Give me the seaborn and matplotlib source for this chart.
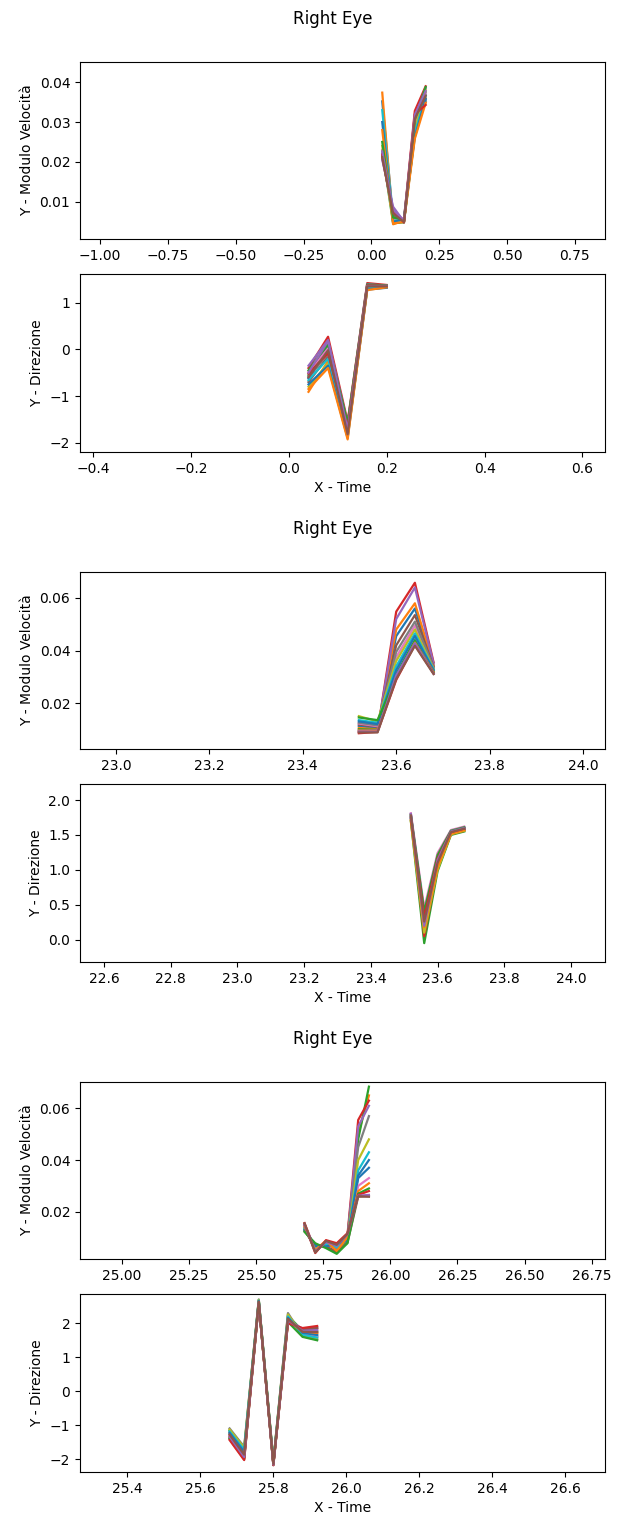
# %%
# * 1. Import packages
import matplotlib.pyplot as plt
import pandas as pd
import seaborn as sns

# %%
# * 2. Data read from the three "Right Eye" figures (one row per trial)
time_a = [0.04, 0.08, 0.12, 0.16, 0.20]
vel_a = [
    [0.0352, 0.0058, 0.0050, 0.0290, 0.0368],
    [0.0374, 0.0043, 0.0052, 0.0275, 0.0360],
    [0.0228, 0.0046, 0.0048, 0.0268, 0.0375],
    [0.0210, 0.0072, 0.0054, 0.0328, 0.0390],
    [0.0205, 0.0087, 0.0050, 0.0312, 0.0385],
    [0.0220, 0.0065, 0.0047, 0.0300, 0.0350],
    [0.0230, 0.0055, 0.0058, 0.0295, 0.0372],
    [0.0215, 0.0068, 0.0049, 0.0285, 0.0355],
    [0.0240, 0.0050, 0.0051, 0.0280, 0.0380],
    [0.0330, 0.0052, 0.0053, 0.0272, 0.0365],
    [0.0300, 0.0049, 0.0056, 0.0262, 0.0358],
    [0.0280, 0.0045, 0.0049, 0.0258, 0.0348],
    [0.0250, 0.0060, 0.0055, 0.0305, 0.0388],
    [0.0218, 0.0075, 0.0048, 0.0320, 0.0343],
    [0.0226, 0.0080, 0.0052, 0.0318, 0.0378],
    [0.0212, 0.0070, 0.0049, 0.0308, 0.0366],
]
dir_a = [
    [-0.62, -0.05, -1.70, 1.35, 1.36],
    [-0.91, -0.25, -1.85, 1.30, 1.34],
    [-0.55, 0.08, -1.62, 1.38, 1.37],
    [-0.40, 0.27, -1.55, 1.42, 1.38],
    [-0.35, 0.20, -1.60, 1.40, 1.36],
    [-0.70, -0.15, -1.80, 1.33, 1.35],
    [-0.48, 0.02, -1.65, 1.36, 1.37],
    [-0.58, -0.10, -1.75, 1.34, 1.35],
    [-0.80, -0.30, -1.88, 1.29, 1.33],
    [-0.66, -0.20, -1.78, 1.31, 1.34],
    [-0.75, -0.35, -1.90, 1.28, 1.32],
    [-0.85, -0.40, -1.93, 1.27, 1.33],
    [-0.45, 0.12, -1.58, 1.39, 1.37],
    [-0.52, -0.08, -1.68, 1.37, 1.36],
    [-0.50, 0.18, -1.72, 1.36, 1.36],
    [-0.60, -0.02, -1.82, 1.35, 1.35],
]

time_b = [23.52, 23.56, 23.60, 23.64, 23.68]
vel_b = [
    [0.0112, 0.0105, 0.0455, 0.0560, 0.0340],
    [0.0105, 0.0100, 0.0480, 0.0580, 0.0345],
    [0.0100, 0.0098, 0.0310, 0.0440, 0.0320],
    [0.0090, 0.0093, 0.0548, 0.0658, 0.0355],
    [0.0095, 0.0096, 0.0520, 0.0640, 0.0350],
    [0.0118, 0.0110, 0.0420, 0.0535, 0.0338],
    [0.0122, 0.0112, 0.0375, 0.0495, 0.0333],
    [0.0125, 0.0115, 0.0395, 0.0510, 0.0335],
    [0.0150, 0.0130, 0.0360, 0.0480, 0.0330],
    [0.0135, 0.0125, 0.0340, 0.0465, 0.0328],
    [0.0130, 0.0120, 0.0325, 0.0455, 0.0325],
    [0.0095, 0.0094, 0.0300, 0.0430, 0.0318],
    [0.0145, 0.0135, 0.0295, 0.0425, 0.0315],
    [0.0085, 0.0090, 0.0288, 0.0421, 0.0313],
    [0.0092, 0.0091, 0.0305, 0.0428, 0.0312],
    [0.0088, 0.0088, 0.0292, 0.0418, 0.0310],
]
dir_b = [
    [1.75, 0.30, 1.10, 1.53, 1.58],
    [1.72, 0.25, 1.05, 1.52, 1.57],
    [1.70, -0.05, 0.98, 1.50, 1.55],
    [1.78, 0.05, 1.02, 1.51, 1.56],
    [1.80, 0.15, 1.15, 1.56, 1.61],
    [1.76, 0.35, 1.20, 1.55, 1.60],
    [1.81, 0.45, 1.24, 1.57, 1.62],
    [1.74, 0.28, 1.12, 1.54, 1.59],
    [1.69, 0.10, 1.00, 1.51, 1.56],
    [1.77, 0.38, 1.18, 1.55, 1.60],
    [1.73, 0.22, 1.08, 1.53, 1.58],
    [1.71, 0.18, 1.04, 1.52, 1.57],
    [1.79, 0.40, 1.21, 1.56, 1.61],
    [1.75, 0.32, 1.16, 1.54, 1.59],
    [1.80, 0.20, 1.14, 1.55, 1.60],
    [1.78, 0.26, 1.10, 1.54, 1.59],
]

time_c = [25.68, 25.72, 25.76, 25.80, 25.84, 25.88, 25.92]
vel_c = [
    [0.0135, 0.0055, 0.0075, 0.0060, 0.0095, 0.0330, 0.0370],
    [0.0150, 0.0045, 0.0085, 0.0050, 0.0105, 0.0500, 0.0650],
    [0.0128, 0.0065, 0.0070, 0.0040, 0.0085, 0.0480, 0.0684],
    [0.0156, 0.0050, 0.0080, 0.0055, 0.0110, 0.0555, 0.0630],
    [0.0145, 0.0060, 0.0078, 0.0065, 0.0100, 0.0530, 0.0610],
    [0.0125, 0.0070, 0.0065, 0.0045, 0.0080, 0.0258, 0.0260],
    [0.0140, 0.0058, 0.0072, 0.0058, 0.0098, 0.0300, 0.0330],
    [0.0148, 0.0048, 0.0082, 0.0052, 0.0108, 0.0450, 0.0570],
    [0.0132, 0.0062, 0.0068, 0.0070, 0.0090, 0.0400, 0.0480],
    [0.0138, 0.0056, 0.0076, 0.0062, 0.0093, 0.0360, 0.0430],
    [0.0130, 0.0068, 0.0066, 0.0075, 0.0088, 0.0340, 0.0400],
    [0.0142, 0.0052, 0.0088, 0.0048, 0.0102, 0.0280, 0.0310],
    [0.0122, 0.0078, 0.0059, 0.0037, 0.0078, 0.0270, 0.0290],
    [0.0152, 0.0040, 0.0090, 0.0078, 0.0117, 0.0265, 0.0280],
    [0.0150, 0.0046, 0.0083, 0.0068, 0.0112, 0.0262, 0.0265],
    [0.0155, 0.0042, 0.0087, 0.0072, 0.0114, 0.0260, 0.0258],
]
dir_c = [
    [-1.25, -1.80, 2.64, -2.12, 2.15, 1.70, 1.62],
    [-1.20, -1.75, 2.66, -2.10, 2.18, 1.74, 1.70],
    [-1.15, -1.70, 2.68, -2.08, 2.22, 1.78, 1.76],
    [-1.35, -1.95, 2.60, -2.15, 2.05, 1.80, 1.85],
    [-1.30, -1.90, 2.62, -2.14, 2.10, 1.84, 1.88],
    [-1.40, -2.00, 2.59, -2.17, 2.02, 1.82, 1.86],
    [-1.28, -1.85, 2.63, -2.13, 2.12, 1.68, 1.60],
    [-1.09, -1.63, 2.70, -2.05, 2.30, 1.62, 1.52],
    [-1.12, -1.66, 2.69, -2.06, 2.26, 1.65, 1.56],
    [-1.18, -1.72, 2.67, -2.09, 2.20, 1.66, 1.58],
    [-1.22, -1.78, 2.65, -2.11, 2.16, 1.72, 1.66],
    [-1.32, -1.92, 2.61, -2.14, 2.08, 1.76, 1.72],
    [-1.38, -1.97, 2.60, -2.16, 2.04, 1.60, 1.50],
    [-1.43, -2.02, 2.59, -2.17, 2.00, 1.86, 1.92],
    [-1.33, -1.93, 2.62, -2.15, 2.09, 1.78, 1.80],
    [-1.27, -1.86, 2.64, -2.13, 2.13, 1.75, 1.74],
]


def to_long(time, rows):
    # one record per (trial, sample) so seaborn draws a line per trial
    records = []
    for trial, row in enumerate(rows):
        for t, v in zip(time, row):
            records.append({'time': t, 'value': v, 'trial': trial})
    return pd.DataFrame(records)


# %%
# * 3. Figure layout (pixel boxes of the reference)
W, H = 619, 1517
fig = plt.figure(figsize=(W / 100, H / 100), dpi=100)
base = sns.color_palette('tab10')
palette = [base[i % 10] for i in range(len(vel_a))]

panels = [
    # data, time, top, bottom, xlim, ylim, ylabel
    (vel_a, time_a, 62, 239, (-1.074, 0.861), (0.0006, 0.0451), 'Y - Modulo Velocità'),
    (dir_a, time_a, 274, 452, (-0.427, 0.646), (-2.2, 1.615), 'Y - Direzione'),
    (vel_b, time_b, 572, 749, (22.923, 24.047), (0.0025, 0.0699), 'Y - Modulo Velocità'),
    (dir_b, time_b, 784, 962, (22.528, 24.102), (-0.32, 2.23), 'Y - Direzione'),
    (vel_c, time_c, 1082, 1259, (24.843, 26.80), (0.0017, 0.0702), 'Y - Modulo Velocità'),
    (dir_c, time_c, 1294, 1472, (25.27, 26.709), (-2.37, 2.86), 'Y - Direzione'),
]

for rows, time, top, bottom, xlim, ylim, ylabel in panels:
    ax = fig.add_axes([80 / W, 1 - bottom / H, 525 / W, (bottom - top) / H])
    sns.lineplot(
        data=to_long(time, rows),
        x='time',
        y='value',
        hue='trial',
        palette=palette,
        estimator=None,
        legend=False,
        linewidth=1.6,
        ax=ax,
    )
    ax.set_xlim(*xlim)
    ax.set_ylim(*ylim)
    ax.set_ylabel(ylabel)
    if ylabel == 'Y - Direzione':
        ax.set_xlabel('X - Time')
    else:
        ax.set_xlabel('')

# one title per original figure
for y in (19, 529, 1039):
    fig.text(333 / W, 1 - y / H, 'Right Eye', ha='center', va='center', fontsize=12)

# Save the plot
fig.savefig('out.png', dpi=100)
